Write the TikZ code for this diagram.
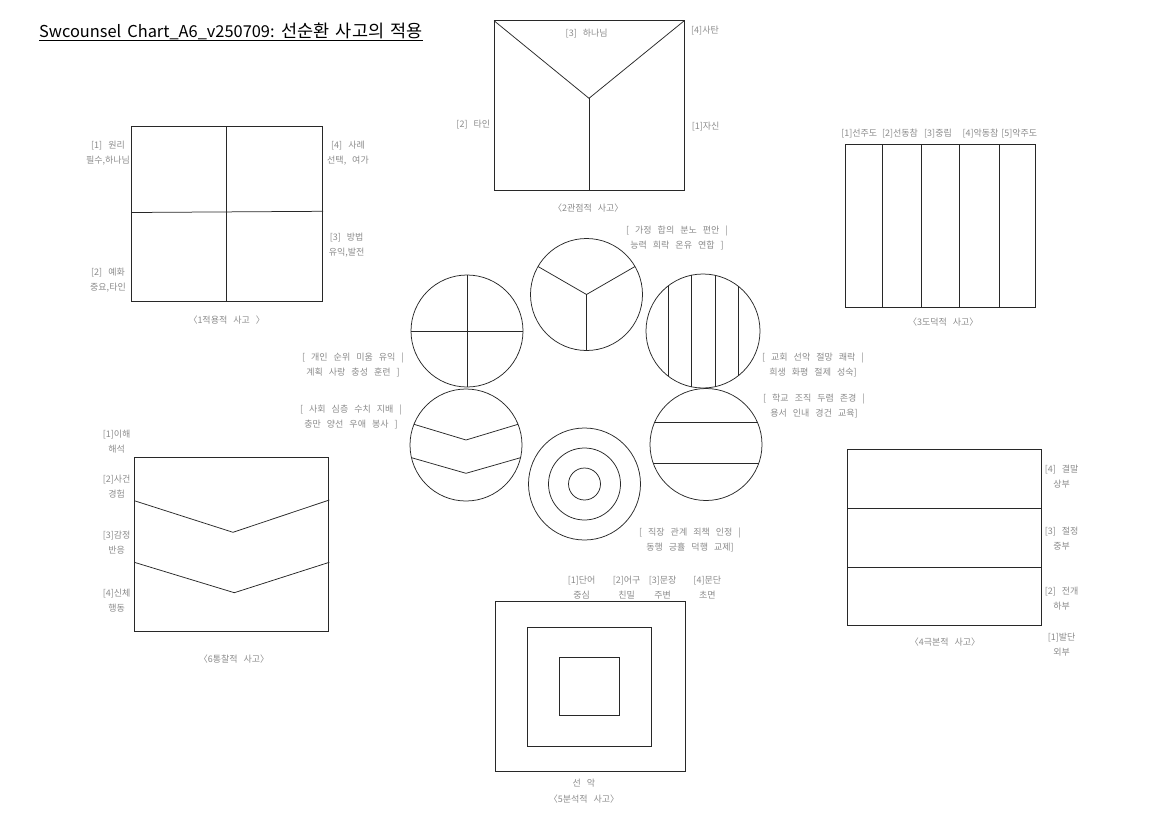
\documentclass[tikz,border=0pt]{standalone}
\usepackage{fontspec}
\setmainfont{Noto Sans CJK KR}
\definecolor{txtc}{RGB}{140,140,140}
\definecolor{linec}{RGB}{40,40,40}
\newcommand\lblspacing{\spaceskip=6pt plus 1pt\relax}
\newcommand\ttlspacing{\spaceskip=6pt plus 1pt\relax}
\begin{document}
\begin{tikzpicture}[x=1pt,y=-1pt,
  shp/.style={draw=linec,line width=0.75pt},
  lbl/.style={text=txtc,font=\fontsize{9}{15}\selectfont\lblspacing,align=center,inner sep=0pt},
  captxt/.style={lbl}]
\useasboundingbox[fill=white] (0,0) rectangle (1152,814);
% title
\node[inner sep=0pt,anchor=base west,font=\fontsize{16.4}{18}\selectfont\ttlspacing] (title) at (39,37) {Swcounsel Chart\_A6\_v250709:\hspace{7pt}{\fontsize{17.5}{18}\selectfont 선순환 사고의 적용}};
\draw[line width=0.7pt] ([yshift=-3pt]title.base west) -- ([yshift=-3pt]title.base east);

% 1 적용적 사고
\draw[shp] (131.7,126.7) rectangle (322.3,301);
\draw[shp] (226.7,126.7) -- (226.7,301);
\draw[shp] (131.7,212.5) -- (323,211.3);
\node[lbl] (a1) at (108,153) {[1] 원리\\필수,하나님};
\node[lbl] (a4) at (348,153) {[4] 사례\\선택, 여가};
\node[lbl] (a3) at (346.7,244.7) {[3] 방법\\유익,발전};
\node[lbl] (a2) at (108,280.3) {[2] 예화\\중요,타인};
\node[captxt] (at) at (226.7,320) {〈1적용적 사고 〉};

% 2 관점적 사고
\draw[shp] (494,20.7) rectangle (684.3,190.3);
\draw[shp] (494,20.7) -- (589,98.3) -- (684.3,20.7);
\draw[shp] (589,98.3) -- (589,190.3);
\node[lbl] (b3) at (586.7,33.3) {[3] 하나님};
\node[lbl] (b4) at (705,30.7) {[4]사탄};
\node[lbl] (b2) at (473.3,125) {[2] 타인};
\node[lbl] (b1) at (705.7,126.7) {[1]자신};
\node[captxt] (bt) at (588.3,208.3) {〈2관점적 사고〉};

% 3 도덕적 사고
\draw[shp] (845,144.3) rectangle (1035,307.7);
\foreach \xx in {882.3,921,959.3,999} \draw[shp] (\xx,144.3) -- (\xx,307.7);
\node[lbl] (c1) at (859.3,134) {[1]선주도};
\node[lbl] (c2) at (900,134) {[2]선동참};
\node[lbl] (c3) at (938,134) {[3]중립};
\node[lbl] (c4) at (980.5,134) {[4]악동참};
\node[lbl] (c5) at (1019.3,134) {[5]악주도};
\node[captxt] (ct) at (943.3,321.7) {〈3도덕적 사고〉};

% 4 극본적 사고
\draw[shp] (847.3,449.3) rectangle (1041.7,625);
\draw[shp] (847.3,508.3) -- (1041.7,508.3);
\draw[shp] (847.3,567.3) -- (1041.7,567.3);
\node[lbl] (d4) at (1061.7,477) {[4] 결말\\상부};
\node[lbl] (d3) at (1061.7,539) {[3] 절정\\중부};
\node[lbl] (d2) at (1061.7,598.3) {[2] 전개\\하부};
\node[lbl] (d1) at (1061.7,645) {[1]발단\\외부};
\node[captxt] (dt) at (945,641.7) {〈4극본적 사고〉};

% 5 분석적 사고
\draw[shp] (495,601) rectangle (685,771.7);
\draw[shp] (527.3,627.3) rectangle (651.7,746);
\draw[shp] (559,657.7) rectangle (619.3,715.3);
\node[lbl] (e1) at (581.7,587.2) {[1]단어\\중심};
\node[lbl] (e2) at (626.7,587.2) {[2]어구\\친밀};
\node[lbl] (e3) at (662.7,587.2) {[3]문장\\주변};
\node[lbl] (e4) at (707.3,587.2) {[4]문단\\초면};
\node[lbl] (e5) at (584,783.3) {선 악};
\node[captxt] (et) at (584,799.3) {〈5분석적 사고〉};

% 6 통찰적 사고
\draw[shp] (134.3,457.7) rectangle (328,631.7);
\draw[shp] (134.3,500.7) -- (233,532.3) -- (329.3,500);
\draw[shp] (134.3,562.3) -- (234.3,592.7) -- (329.3,562.3);
\node[lbl] (f1) at (116.7,442) {[1]이해\\해석};
\node[lbl] (f2) at (116.7,486.7) {[2]사건\\경험};
\node[lbl] (f3) at (116.7,542.5) {[3]감정\\반응};
\node[lbl] (f4) at (116.7,600.8) {[4]신체\\행동};
\node[captxt] (ft) at (234,659.3) {〈6통찰적 사고〉};

% circles
% C1 quadrants
\draw[shp] (467,331) circle[radius=56];
\draw[shp] (411,331) -- (523,331);
\draw[shp] (467,275) -- (467,387);
% C2 Y
\draw[shp] (586.5,294.5) circle[radius=56];
\draw[shp] (538,266.5) -- (586.5,294.5) -- (635,266.5);
\draw[shp] (586.5,294.5) -- (586.5,350.5);
% C3 stripes
\draw[shp] (703,331) circle[radius=57];
\draw[shp] (668.3,285.8) -- (668.3,376.2);
\draw[shp] (691.7,275.1) -- (691.7,386.9);
\draw[shp] (715,275.3) -- (715,386.7);
\draw[shp] (738.3,286.2) -- (738.3,375.8);
% C4 chevrons
\draw[shp] (466,445) circle[radius=56];
\draw[shp] (414,424.3) -- (466,440) -- (518,424.3);
\draw[shp] (411.5,457.7) -- (466,473.3) -- (520.5,457.7);
% C5 concentric
\draw[shp] (584.5,484) circle[radius=56];
\draw[shp] (584.5,484) circle[radius=36];
\draw[shp] (584.5,484) circle[radius=16];
% C6 horizontal
\draw[shp] (706,444.5) circle[radius=56];
\draw[shp] (654.4,422.7) -- (757.6,422.7);
\draw[shp] (653.3,463.3) -- (758.7,463.3);

\node[lbl] (g1) at (677,237.5) {[ 가정 합의 분노 편안 |\\능력 희락 온유 연합 ]};
\node[lbl] (g2) at (353,365) {[ 개인 순위 미움 유익 |\\계획 사랑 충성 훈련 ]};
\node[lbl] (g3) at (813,364.5) {[ 교회 선악 절망 쾌락 |\\희생 화평 절제 성숙]};
\node[lbl] (g4) at (351,416.5) {[ 사회 심층 수치 지배 |\\충만 양선 우애 봉사 ]};
\node[lbl] (g5) at (814,406) {[ 학교 조직 두렴 존경 |\\용서 인내 경건 교육]};
\node[lbl] (g6) at (690,539.5) {[ 직장 관계 죄책 인정 |\\동행 긍휼 덕행 교제]};
\end{tikzpicture}
\end{document}
